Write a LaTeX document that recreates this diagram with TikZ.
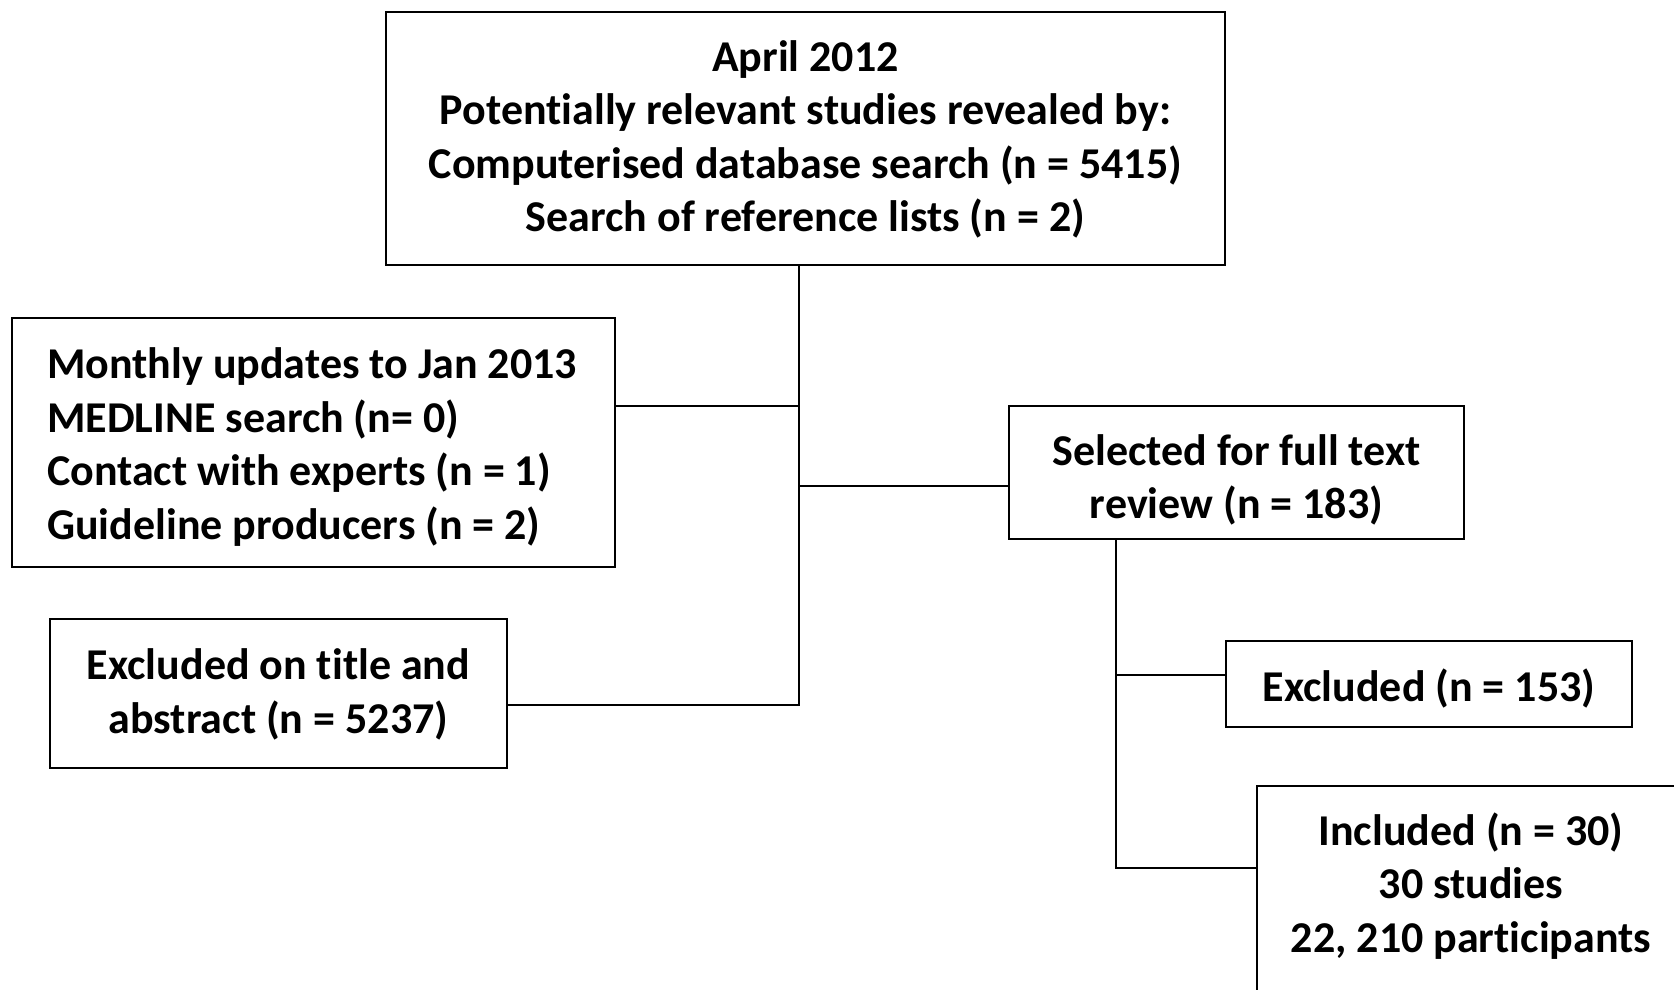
\documentclass[tikz,border=0pt]{standalone}
\usepackage{fontspec}
\setmainfont{Carlito}[Ligatures=NoCommon]
\begin{document}
\begin{tikzpicture}[x=1pt,y=-1pt,
  box/.style={draw=black, line width=2.8pt, inner sep=0pt, outer sep=0pt, rectangle},
  txt/.style={font=\bfseries\fontsize{44}{53.4}\selectfont, align=center, inner sep=0pt},
  conn/.style={draw=black, line width=2.4pt}]
\clip (0,0) rectangle (1674,989);
\fill[white] (0,0) rectangle (1674,989);

% boxes
\node[box, minimum width=839pt, minimum height=253pt] (top) at (805.5,138.5) {};
\node[box, minimum width=603pt, minimum height=249pt] (month) at (313.5,442.5) {};
\node[box, minimum width=457pt, minimum height=149pt] (excl1) at (278.5,693.5) {};
\node[box, minimum width=455pt, minimum height=133pt] (sel) at (1236.5,472.5) {};
\node[box, minimum width=406pt, minimum height=86pt] (exc2) at (1429,684) {};
\node[box, minimum width=440pt, minimum height=240pt, anchor=north west] (inc) at (1257,786) {};

% texts
\node[txt] (toptext) at (805.5,139.5)
  {April 2012\\Potentially relevant studies revealed by:\\Computerised database search (n = 5415)\\Search of reference lists (n = 2)};
\node[txt, align=left, anchor=west] (monthtext) at (47,447)
  {Monthly updates to Jan 2013\\MEDLINE search (n= 0)\\Contact with experts (n = 1)\\Guideline producers (n = 2)};
\node[txt] (excl1text) at (278.5,694.5) {Excluded on title and\\abstract (n = 5237)};
\node[txt] (seltext) at (1236.5,480) {Selected for full text\\review (n = 183)};
\node[txt] (exc2text) at (1429,688) {Excluded (n = 153)};
\node[txt] (inctext) at (1471,886) {Included (n = 30)\\30 studies\\22, 210 participants};

% connectors
\coordinate (v1) at (799,705);
\coordinate (j1) at (799,406);
\coordinate (j2) at (799,486);
\coordinate (v2) at (1116,868);
\coordinate (j3) at (1116,675);

\draw[conn] (top.south -| v1) -- (v1) -- (excl1.east |- v1);
\draw[conn] (month.east |- j1) -- (j1);
\draw[conn] (j2) -- (sel.west |- j2);
\draw[conn] (sel.south -| v2) -- (v2) -- (inc.west |- v2);
\draw[conn] (j3) -- (exc2.west |- j3);
\end{tikzpicture}
\end{document}
